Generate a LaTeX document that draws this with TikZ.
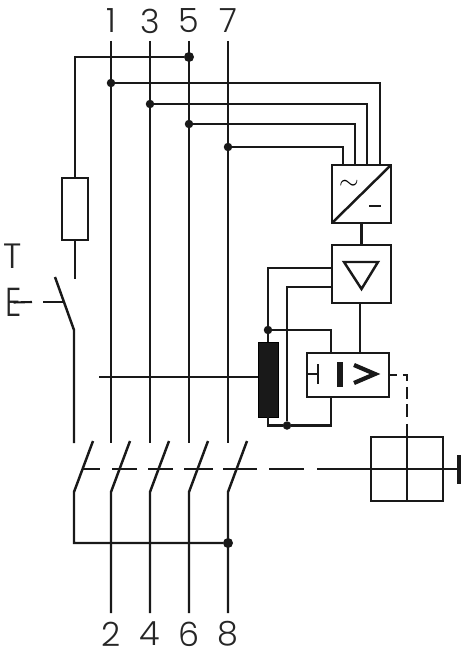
\documentclass[tikz,border=0pt]{standalone}
\usepackage{fontspec}
\newfontfamily\labelfont{Poppins Light}
\tikzset{
	wire/.style={line width=1.4pt,color=black!90},
	thinwire/.style={line width=1.2pt,color=black!90},
	blockbox/.style={draw=black!90,line width=1.4pt,fill=white,inner sep=0pt,outer sep=0pt},
	dot/.style={circle,fill=black!90,inner sep=0pt,outer sep=0pt,minimum size=0.17cm},
	numlabel/.style={font=\labelfont\fontsize{19}{19}\selectfont,color=black!85,inner sep=0pt},
	mechlink/.style={line width=1.4pt,color=black!90}
}
\begin{document}
\begin{tikzpicture}[line join=miter,x=0.02cm,y=-0.02cm]
	\useasboundingbox (0,0) rectangle (460,652);
	% terminals
	\foreach \numtop/\numbot/\polex in {1/2/111,3/4/150,5/6/189,7/8/228}{
		\node (top\numtop) [numlabel] at (\polex,21) {\numtop};
		\node (bot\numbot) [numlabel] at (\polex,634) {\numbot};
		\coordinate (up\numtop) at (\polex,41);
		\coordinate (open\numtop) at (\polex,443);
		\coordinate (low\numbot) at (\polex,492);
		\coordinate (tip\numbot) at (\polex+19,441);
		\coordinate (end\numbot) at (\polex,613);
		\draw [wire] (up\numtop) -- (open\numtop);
		\draw [wire] (tip\numbot) -- (low\numbot) -- (end\numbot);
	}
	% blocks
	\node (conv) [blockbox,minimum width=1.18cm,minimum height=1.16cm] at (361.5,194) {};
	\node (amp) [blockbox,minimum width=1.18cm,minimum height=1.16cm] at (361.5,274) {};
	\node (relay) [blockbox,minimum width=1.64cm,minimum height=0.88cm] at (348,375) {};
	\node (coil) [draw=black,fill=black!90,inner sep=0pt,minimum width=0.4cm,minimum height=1.5cm] at (268,379.5) {};
	\node (resist) [blockbox,minimum width=0.52cm,minimum height=1.24cm] at (75,209) {};
	\node (cell) [blockbox,minimum width=1.44cm,minimum height=1.28cm] at (407,469) {};
	% junctions
	\node (dotfive) [dot,minimum size=0.2cm] at (189,57) {};
	\node (dotone) [dot] at (111,83) {};
	\node (dotthree) [dot] at (150,104) {};
	\node (dotfivb) [dot] at (189,124) {};
	\node (dotseven) [dot] at (228,147) {};
	\node (dotcoil) [dot] at (268,330) {};
	\node (dotret) [dot] at (287,425.5) {};
	\node (dotbot) [dot,minimum size=0.2cm] at (228,543) {};
	% supply of the test circuit
	\draw [wire] (dotfive) -| (resist.north);
	\coordinate (testend) at (75,279);
	\draw [wire] (resist.south) -- (testend);
	\coordinate (testlow) at (74,330);
	\coordinate (testtip) at (55,277);
	\coordinate (testopen) at (74,443);
	\draw [wire] (testtip) -- (testlow) -- (testopen);
	% lines to the converter
	\coordinate (conva) at (380,165);
	\coordinate (convb) at (367,165);
	\coordinate (convc) at (355,165);
	\coordinate (convd) at (343,165);
	\draw [wire] (dotone) -| (conva);
	\draw [wire] (dotthree) -| (convb);
	\draw [wire] (dotfivb) -| (convc);
	\draw [wire] (dotseven) -| (convd);
	\draw [wire] (conv.south west) -- (conv.north east);
	\node (acsign) [font=\fontsize{14}{14}\selectfont,inner sep=0pt] at (349,185) {$\sim$};
	\coordinate (dca) at (369,206);
	\coordinate (dcb) at (381,206);
	\draw [wire] (dca) -- (dcb);
	\draw [wire] (conv.south) -- (amp.north);
	% amplifier
	\coordinate (tria) at (344,262);
	\coordinate (trib) at (378,262);
	\coordinate (tric) at (361.5,289);
	\draw [wire] (tria) -- (trib) -- (tric) -- cycle;
	\coordinate (ampa) at (332,268);
	\coordinate (ampb) at (332,287);
	\draw [wire] (ampa) -| (dotcoil);
	\draw [wire] (ampb) -| (dotret);
	\draw [wire] (dotcoil) -- (coil.north);
	\coordinate (relaya) at (331,353);
	\coordinate (relayb) at (331,397);
	\draw [wire] (dotcoil) -| (relaya);
	\draw [wire] (coil.south) |- (dotret);
	\draw [wire] (dotret) -| (relayb);
	\coordinate (ampout) at (360,303);
	\coordinate (relayin) at (360,353);
	\draw [wire] (ampout) -- (relayin);
	% sum line through the coil
	\coordinate (sumend) at (99,377);
	\draw [wire] (sumend) -- (coil.west |- sumend);
	% relay
	\coordinate (relayc) at (307,374);
	\coordinate (relayd) at (318,374);
	\coordinate (relaye) at (318,364);
	\coordinate (relayf) at (318,384);
	\draw [wire] (relayc) -- (relayd);
	\draw [wire] (relaye) -- (relayf);
	\coordinate (bara) at (340,362);
	\coordinate (barb) at (340,387);
	\draw [line width=2.9pt,color=black!90] (bara) -- (barb);
	\coordinate (gta) at (354,365);
	\coordinate (gtb) at (375,374);
	\coordinate (gtc) at (354,383);
	\draw [line width=2.4pt,color=black!90] (gta) -- (gtb) -- (gtc);
	% trip link
	\coordinate (relayout) at (389,375);
	\coordinate (celltop) at (407,437);
	\draw [wire,dash pattern=on 4.5pt off 3.4pt on 5.7pt off 3.4pt on 6.8pt off 3pt on 7.4pt off 3.8pt on 7pt off 3pt] (relayout) -| (celltop);
	\draw [wire] (cell.north) -- (cell.south);
	% mechanical link
	\foreach \xa/\xb in {83/100,112/137,148/173,184/213,223/257,269/304}{
		\coordinate (linka) at (\xa,469);
		\coordinate (linkb) at (\xb,469);
		\draw [mechlink] (linka) -- (linkb);
	}
	\coordinate (linkc) at (317,469);
	\coordinate (barc) at (459,455);
	\coordinate (bard) at (459,484);
	\draw [mechlink] (linkc) -- (barc |- linkc);
	\draw [line width=1.9pt,color=black!90] (barc) -- (bard);
	% bottom bar
	\coordinate (lowtest) at (74,492);
	\coordinate (tiptest) at (93,441);
	\draw [wire] (tiptest) -- (lowtest) |- (dotbot);
	% test button
	\node (testt) [numlabel,font=\labelfont\fontsize{20}{20}\selectfont] at (13,256) {T};
	\node (teste) [numlabel,font=\labelfont\fontsize{23}{23}\selectfont,xscale=0.8] at (13.5,302.5) {E};
	\coordinate (arma) at (32,302);
	\coordinate (armb) at (43,302);
	\coordinate (armc) at (63,302);
	\draw [thinwire] (teste.center) -- (arma);
	\draw [wire] (armb) -- (armc);
\end{tikzpicture}
\end{document}
